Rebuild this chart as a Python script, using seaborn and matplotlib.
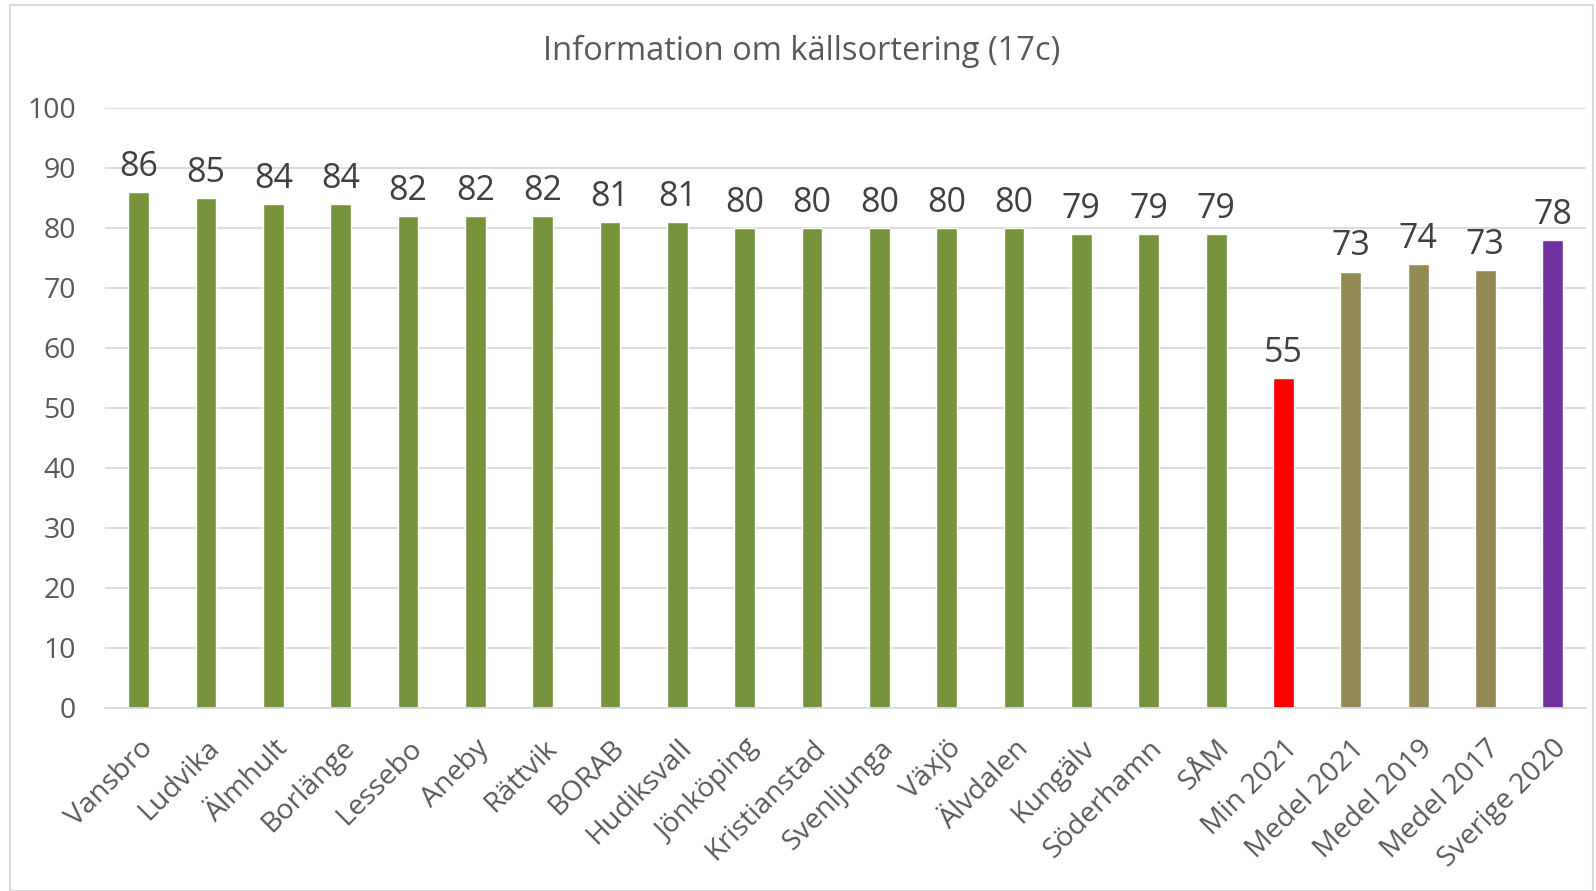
import matplotlib
matplotlib.use("Agg")
import matplotlib.pyplot as plt
import pandas as pd
import seaborn as sns
from matplotlib.patches import Rectangle

categories = ["Vansbro", "Ludvika", "Älmhult", "Borlänge", "Lessebo", "Aneby",
              "Rättvik", "BORAB", "Hudiksvall", "Jönköping", "Kristianstad",
              "Svenljunga", "Växjö", "Älvdalen", "Kungälv", "Söderhamn", "SÅM",
              "Min 2021", "Medel 2021", "Medel 2019", "Medel 2017", "Sverige 2020"]
values = [86, 85, 84, 84, 82, 82, 82, 81, 81, 80, 80, 80, 80, 80, 79, 79, 79,
          55, 72.7, 74, 73, 78]
groups = ["kommun"] * 17 + ["min", "medel", "medel", "medel", "sverige"]

GROUP_COLORS = {
    "kommun": "#77933C",
    "min": "#FF0000",
    "medel": "#948A54",
    "sverige": "#7030A0",
}
TEXT = "#595959"

sns.set_theme(style="white")
plt.rcParams["font.family"] = ["Open Sans", "DejaVu Sans"]

df = pd.DataFrame({"kategori": categories, "andel": values, "grupp": groups})
palette = [GROUP_COLORS[g] for g in groups]

fig = plt.figure(figsize=(15.96, 8.91), dpi=100)
ax = fig.add_axes([0.0658, 0.2054, 0.9282, 0.6734])

sns.barplot(data=df, x="kategori", y="andel", hue="kategori", palette=palette,
            legend=False, width=0.31, saturation=1, ax=ax)

for cont in ax.containers:
    ax.bar_label(cont, labels=[f"{v:.0f}" for v in cont.datavalues],
                 padding=6, fontsize=24.5, color="#404040")

ax.set_ylim(0, 100)
ax.set_xlim(-0.5, len(categories) - 0.5)
ax.set_yticks(range(0, 101, 10))
ax.yaxis.grid(True, color="#D9D9D9", linewidth=1.3)
ax.set_axisbelow(True)
for side in ["left", "right", "top"]:
    ax.spines[side].set_visible(False)
ax.spines["bottom"].set_color("#D9D9D9")
ax.spines["bottom"].set_linewidth(1.3)
ax.set_xlabel("")
ax.set_ylabel("")
ax.tick_params(axis="y", labelsize=20.5, colors=TEXT, length=0, pad=21)
ax.tick_params(axis="x", labelsize=20.5, colors=TEXT, length=0, pad=19)
plt.setp(ax.get_xticklabels(), rotation=45, ha="right", rotation_mode="anchor")

fig.text(0.502, 0.942, "Information om källsortering (17c)", ha="center",
         va="center", fontsize=23.5, color=TEXT)

# thin frame around the chart, as in the spreadsheet export
fig.patches.append(Rectangle((0.006, 0.0), 0.992, 0.994, transform=fig.transFigure,
                             fill=False, edgecolor="#D9D9D9", linewidth=1.5))

fig.savefig("out.png", dpi=100)
